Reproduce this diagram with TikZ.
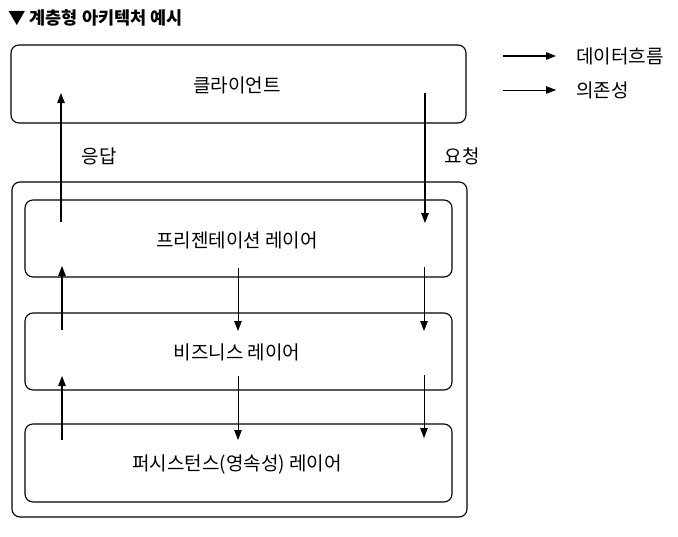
\documentclass[tikz,border=0pt]{standalone}
\usepackage{fontspec}
\setmainfont{Noto Sans CJK KR}
\usetikzlibrary{arrows.meta}
\begin{document}
\begin{tikzpicture}[x=1pt,y=-1pt,
  boxstyle/.style={draw, line width=1.1pt, rounded corners=8pt},
  lbl/.style={font=\fontsize{19}{21}\selectfont, inner sep=0pt},
  flowline/.style={line width=1.2pt, -{Triangle[length=10pt,width=7.5pt]}},
  depline/.style={line width=0.8pt, -{Triangle[length=10pt,width=7.5pt]}}]
\useasboundingbox (0,0) rectangle (678,536);
\node[anchor=west, inner sep=0pt, font=\fontsize{17.5}{19}\selectfont\bfseries] (title) at (8,18) {▼ 계층형 아키텍처 예시};
% boxes
\draw[boxstyle] (11,45) rectangle (466,123);
\node[lbl] (client) at (237,85) {클라이언트};
\draw[boxstyle] (12,182) rectangle (467,517);
\draw[boxstyle] (25,200) rectangle (452,277);
\node[lbl] (pres) at (237,240) {프리젠테이션 레이어};
\draw[boxstyle] (25,313) rectangle (452,390);
\node[lbl] (biz) at (237,352) {비즈니스 레이어};
\draw[boxstyle] (25,424) rectangle (452,502);
\node[lbl] (pers) at (237,464) {퍼시스턴스(영속성) 레이어};
% labels
\node[lbl] (resp) at (99,156) {응답};
\node[lbl] (req) at (462,156) {요청};
% coordinates
\coordinate (a1s) at (61,222); \coordinate (a1e) at (61,93);
\coordinate (a2s) at (425,93); \coordinate (a2e) at (425,223);
\coordinate (b1s) at (62,330); \coordinate (b1e) at (62,266);
\coordinate (b2s) at (238,268); \coordinate (b2e) at (238,331);
\coordinate (b3s) at (424,267); \coordinate (b3e) at (424,331);
\coordinate (c1s) at (62,440); \coordinate (c1e) at (62,376);
\coordinate (c2s) at (238,376); \coordinate (c2e) at (238,440);
\coordinate (c3s) at (424,375); \coordinate (c3e) at (424,438);
\draw[flowline] (a1s) -- (a1e);
\draw[flowline] (a2s) -- (a2e);
\draw[flowline] (b1s) -- (b1e);
\draw[depline] (b2s) -- (b2e);
\draw[depline] (b3s) -- (b3e);
\draw[flowline] (c1s) -- (c1e);
\draw[depline] (c2s) -- (c2e);
\draw[depline] (c3s) -- (c3e);
% legend
\coordinate (l1s) at (503,56); \coordinate (l1e) at (556,56);
\coordinate (l2s) at (503,90); \coordinate (l2e) at (556,90);
\draw[flowline] (l1s) -- (l1e);
\draw[depline] (l2s) -- (l2e);
\node[lbl, anchor=west] (leg1) at (576,56) {데이터흐름};
\node[lbl, anchor=west] (leg2) at (576,90) {의존성};
\end{tikzpicture}
\end{document}
